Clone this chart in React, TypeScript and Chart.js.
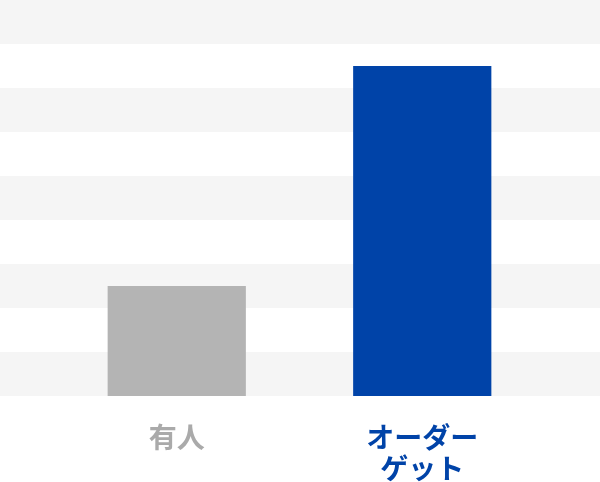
import { useEffect, useRef } from "react"
import { Chart, registerables } from "chart.js"

Chart.register(...registerables)

// データ
const labels = [["有人"], ["オーダー", "ゲット"]]
const values = [2.5, 7.5]
const barColors = ["#b4b4b4", "#0043a8"]
const labelColors = ["#aaaaaa", "#0043a8"]
const yMax = 9

// 背景のストライプ
const stripePlugin = {
  id: "stripes",
  beforeDraw(chart: Chart) {
    const { ctx, scales } = chart
    const y = scales.y
    ctx.save()
    ctx.fillStyle = "#f5f5f5"
    for (let v = 0; v < yMax; v += 2) {
      const top = y.getPixelForValue(v + 1)
      const bottom = y.getPixelForValue(v)
      ctx.fillRect(0, top, chart.width, bottom - top)
    }
    ctx.restore()
  },
}

export default function App() {
  const chartRef = useRef<HTMLCanvasElement>(null)
  const chartInstance = useRef<Chart | null>(null)

  useEffect(() => {
    document.body.style.margin = "0"
    if (!chartRef.current) return
    const ctx = chartRef.current.getContext("2d")
    if (!ctx) return

    chartInstance.current = new Chart(ctx, {
      type: "bar",
      data: {
        labels,
        datasets: [
          {
            data: values,
            backgroundColor: barColors,
            borderWidth: 0,
            barPercentage: 0.563,
            categoryPercentage: 1,
          },
        ],
      },
      options: {
        responsive: true,
        maintainAspectRatio: false,
        animation: false,
        layout: { padding: { left: 54, right: 55, top: 0, bottom: -28 } },
        plugins: {
          legend: { display: false },
          tooltip: { enabled: false },
        },
        scales: {
          x: {
            grid: { display: false, drawTicks: false },
            border: { display: false },
            ticks: {
              padding: 26,
              color: (c) => labelColors[c.index] ?? "#aaaaaa",
              font: {
                family: "'Noto Sans CJK JP', 'Noto Sans', sans-serif",
                size: 28,
                weight: "bold",
                lineHeight: 31 / 28,
              },
            },
          },
          y: {
            display: false,
            min: 0,
            max: yMax,
          },
        },
      },
      plugins: [stripePlugin],
    })

    return () => {
      if (chartInstance.current) {
        chartInstance.current.destroy()
      }
    }
  }, [])

  return (
    <div style={{ width: 600, height: 482, position: "relative" }}>
      <canvas ref={chartRef} />
    </div>
  )
}
